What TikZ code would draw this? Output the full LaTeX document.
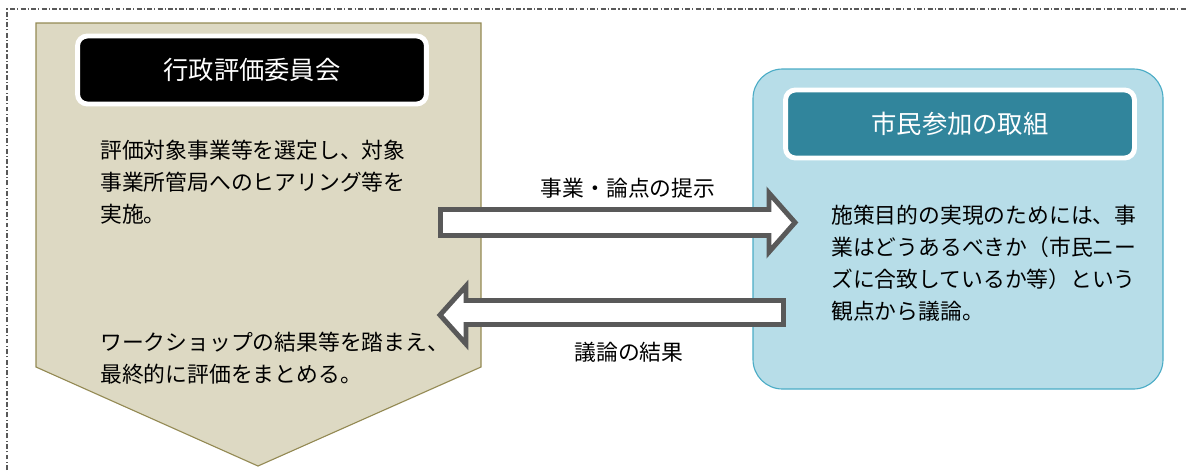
\documentclass[tikz,border=0pt]{standalone}
\usepackage{fontspec}
\setmainfont{Noto Sans CJK JP}
\usepackage{tikz}
\usetikzlibrary{calc}

\definecolor{khakiFill}{HTML}{DDD9C3}
\definecolor{khakiLine}{HTML}{948A54}
\definecolor{skyFill}{HTML}{B7DDE8}
\definecolor{skyLine}{HTML}{4BACC6}
\definecolor{titleTeal}{HTML}{31859C}
\definecolor{arrowGray}{HTML}{595959}

\begin{document}
\begin{tikzpicture}[x=0.025cm,y=-0.025cm,
	titlebox/.style={draw=white,line width=3.5pt,rounded corners=7pt,text=white,
		minimum width=8.72cm,minimum height=1.7cm,font=\fontsize{18}{22}\selectfont},
	bodytext/.style={anchor=north west,inner sep=0pt,align=left,
		font=\fontsize{15.5}{22.7}\selectfont},
	flowlabel/.style={inner sep=0pt,font=\fontsize{15.5}{22.7}\selectfont},
	blockarrow/.style={draw=arrowGray,fill=white,line width=3.5pt,miter limit=10}]
			
			\useasboundingbox (0,0) rectangle (1188,470);
			
			% frame
			\draw[gray!70!black,line width=0.8pt,dash pattern=on 3.5pt off 1.6pt on 0.8pt off 1.6pt] (7,470) -- (7,9) -- (1188,9);
			
			% left pentagon and right box
			\draw[fill=khakiFill,draw=khakiLine,line width=0.8pt] (36,23) -- (481,23) -- (481,367) -- (258,466) -- (36,367) -- cycle;
			\draw[fill=skyFill,draw=skyLine,line width=0.8pt,rounded corners=21pt] (753,69) rectangle (1163,389);
			
			\node[titlebox,fill=black] (Gyosei) at (252,70) {行政評価委員会};
			\node[titlebox,fill=titleTeal] (Shimin) at (960,124) {市民参加の取組};
			
			\node[bodytext] (Sentei) at (100,140) {評価対象事業等を選定し、対象\\事業所管局へのヒアリング等を\\実施。};
			\node[bodytext] (Matome) at (100,332) {ワークショップの結果等を踏まえ、\\最終的に評価をまとめる。};
			\node[bodytext] (Giron) at (831,205) {施策目的の実現のためには、事\\業はどうあるべきか（市民ニー\\ズに合致しているか等）という\\観点から議論。};
			
			% block arrows
			\draw[blockarrow] (440.5,209.5) -- (769,209.5) -- (769,193) -- (795,222.5) -- (769,252) -- (769,235.5) -- (440.5,235.5) -- cycle;
			\draw[blockarrow] (783.5,300.5) -- (466,300.5) -- (466,286) -- (440,315) -- (466,344) -- (466,324.5) -- (783.5,324.5) -- cycle;
			
			\node[flowlabel] (Teiji) at (628,188) {事業・論点の提示};
			\node[flowlabel] (Kekka) at (629,352) {議論の結果};
			%\draw (Teiji) -- (Kekka);
			
			\end{tikzpicture}
\end{document}
